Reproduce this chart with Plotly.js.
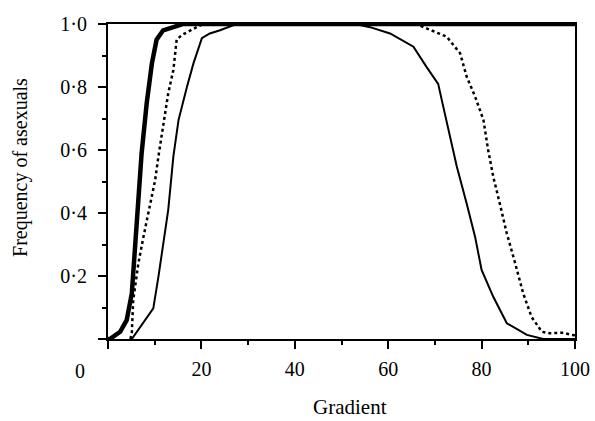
<!DOCTYPE html>
<html>
<head>
<meta charset="utf-8">
<script src="https://cdn.plot.ly/plotly-3.0.1.min.js"></script>
<style>html,body{margin:0;padding:0;background:#fff;}#chart{width:595px;height:421px;}</style>
</head>
<body>
<div id="chart"></div>
<script>
// Thick solid curve
var thickX = [0, 0.4, 2.6, 4.0, 5.1, 5.8, 6.5, 7.2, 8.3, 9.4, 10.4, 11.8, 14.0, 16.0, 100];
var thickY = [0, 0, 0.023, 0.06, 0.145, 0.30, 0.45, 0.59, 0.75, 0.875, 0.95, 0.98, 0.99, 1.0, 1.0];
// Dotted curve
var dottedX = [4.8, 5.1, 5.4, 6.5, 7.6, 9.0, 10.1, 10.8, 11.8, 12.9, 14.0, 14.7, 15.8, 17.6, 19.0, 20.5,
               66.0, 68.2, 72.5, 75.4, 76.8, 78.6, 80.4, 81.4, 82.5, 83.9, 85.4, 87.2, 88.9, 90.7, 92.9, 94.6, 97.5, 99.3, 100];
var dottedY = [0, 0.02, 0.124, 0.24, 0.325, 0.43, 0.505, 0.58, 0.674, 0.78, 0.854, 0.95, 0.965, 0.98, 0.99, 1.0,
               1.0, 0.986, 0.96, 0.907, 0.833, 0.77, 0.695, 0.60, 0.515, 0.43, 0.335, 0.24, 0.145, 0.07, 0.023, 0.018, 0.02, 0.013, 0.012];
// Thin solid curve
var thinX = [5.1, 9.7, 10.8, 11.8, 12.9, 14.0, 15.1, 16.9, 18.3, 20.1, 21.8, 24.0, 25.8, 27.5,
             53.0, 56.1, 60.4, 65.4, 68.2, 70.7, 71.8, 73.2, 74.7, 76.8, 78.6, 80.0, 82.5, 85.4, 89.7, 93.2, 100];
var thinY = [0, 0.097, 0.198, 0.30, 0.41, 0.58, 0.695, 0.80, 0.875, 0.955, 0.97, 0.98, 0.99, 1.0,
             1.0, 0.99, 0.97, 0.928, 0.864, 0.81, 0.737, 0.642, 0.547, 0.43, 0.325, 0.219, 0.134, 0.05, 0.013, 0, 0];

var yTickVals = [0, 0.2, 0.4, 0.6, 0.8, 1.0];
var yTickText = ['', '0\u00b72', '0\u00b74', '0\u00b76', '0\u00b78', '1\u00b70'];
var yMinorVals = [0.1, 0.3, 0.5, 0.7, 0.9];
var xTickVals = [0, 20, 40, 60, 80, 100];
var xTickText = ['', '20', '40', '60', '80', '100'];
var xMinorVals = [10, 30, 50, 70, 90];

var fam = 'Liberation Serif, Times New Roman, serif';
var tickFont = {family: fam, size: 20, color: '#000'};

var traces = [
  {x: thinX, y: thinY, mode: 'lines', line: {color: '#000', width: 2}, hoverinfo: 'skip'},
  {x: dottedX, y: dottedY, mode: 'lines', line: {color: '#000', width: 2.5, dash: 'dot'}, hoverinfo: 'skip'},
  {x: thickX, y: thickY, mode: 'lines', line: {color: '#000', width: 4.5}, hoverinfo: 'skip'},
  // invisible helper trace so the minor-tick overlay axes are drawn
  {x: [0, 100], y: [0, 1], xaxis: 'x2', yaxis: 'y2', mode: 'lines', line: {color: 'rgba(0,0,0,0)', width: 0}, hoverinfo: 'skip'}
];

var layout = {
  width: 595, height: 421,
  margin: {l: 108, r: 20, t: 24, b: 82},
  paper_bgcolor: '#fff', plot_bgcolor: '#fff',
  showlegend: false,
  font: tickFont,
  xaxis: {
    range: [0, 100], showgrid: false, zeroline: false,
    showline: true, linecolor: '#000', linewidth: 2, mirror: true,
    ticks: 'outside', ticklen: 8, tickwidth: 2, tickcolor: '#000', ticklabelstandoff: 3,
    tickmode: 'array', tickvals: xTickVals, ticktext: xTickText, tickfont: tickFont
  },
  yaxis: {
    range: [0, 1.0], showgrid: false, zeroline: false,
    showline: true, linecolor: '#000', linewidth: 2, mirror: true,
    ticks: 'outside', ticklen: 8, tickwidth: 2, tickcolor: '#000', ticklabelstandoff: 7,
    tickmode: 'array', tickvals: yTickVals, ticktext: yTickText, tickfont: tickFont
  },
  xaxis2: {
    overlaying: 'x', side: 'bottom', range: [0, 100], showgrid: false, zeroline: false, showline: false,
    ticks: 'outside', ticklen: 5, tickwidth: 2, tickcolor: '#000',
    tickmode: 'array', tickvals: xMinorVals, showticklabels: false
  },
  yaxis2: {
    overlaying: 'y', side: 'left', range: [0, 1.0], showgrid: false, zeroline: false, showline: false,
    ticks: 'outside', ticklen: 5, tickwidth: 2, tickcolor: '#000',
    tickmode: 'array', tickvals: yMinorVals, showticklabels: false
  },
  annotations: [
    {text: '0', xref: 'paper', yref: 'paper', x: -0.06, y: 0, xanchor: 'center', yanchor: 'top', yshift: -19, showarrow: false, font: tickFont},
    {text: 'Gradient', xref: 'paper', yref: 'paper', x: 0.518, y: 0, xanchor: 'center', yanchor: 'middle', yshift: -68, showarrow: false, font: {family: fam, size: 21, color: '#000'}},
    {text: 'Frequency of asexuals', xref: 'paper', yref: 'paper', x: 0, y: 0.543, xanchor: 'center', yanchor: 'middle', xshift: -87, textangle: -90, showarrow: false, font: {family: fam, size: 20, color: '#000'}}
  ]
};

Plotly.newPlot('chart', traces, layout, {displayModeBar: false, staticPlot: true});
</script>
</body>
</html>
